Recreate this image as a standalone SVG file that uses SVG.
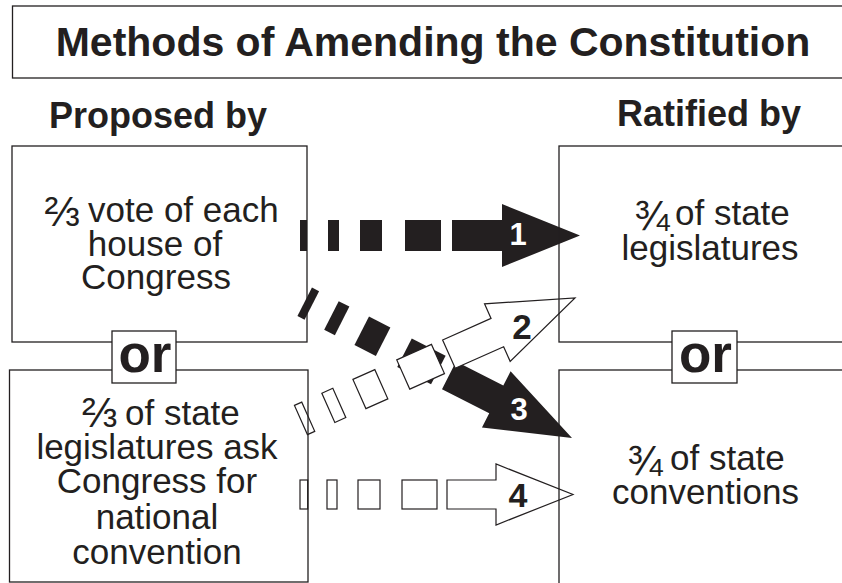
<svg xmlns="http://www.w3.org/2000/svg" width="842" height="583" viewBox="0 0 842 583">
<style>
.t{font-family:"Liberation Sans",Arial,Helvetica,sans-serif;fill:#231f20}
.b{font-weight:bold}
.bx{fill:none;stroke:#231f20;stroke-width:1.3}
.orb{fill:#fff;stroke:#231f20;stroke-width:1.3}
.blk{fill:#231f20}
.wht{fill:#fff;stroke:#231f20;stroke-width:1.2}
.m{text-anchor:middle}
.fr{font-size:42px}
</style>
<rect width="842" height="583" fill="#fff"/>
<g id="connectors">
  <g id="arrow1">
    <rect class="blk" x="300" y="220" width="7" height="31"/>
    <rect class="blk" x="328" y="220" width="11" height="31"/>
    <rect class="blk" x="360" y="220" width="22" height="31"/>
    <rect class="blk" x="405" y="220" width="36" height="31"/>
    <polygon class="blk" points="452,220 502,220 502,204 580,235.5 502,267 502,251 452,251"/>
    <text class="t b m" x="518" y="245" font-size="31" style="fill:#fff">1</text>
  </g>
  <g id="arrow3">
    <g transform="translate(572,438) rotate(27)">
      <rect class="blk" x="-300" y="-16" width="8" height="32"/>
      <rect class="blk" x="-270" y="-16" width="12" height="32"/>
      <rect class="blk" x="-236" y="-16" width="24" height="32"/>
      <rect class="blk" x="-188" y="-16" width="38" height="32"/>
      <polygon class="blk" points="-138,-15.5 -85,-15.5 -85,-31.5 0,0 -85,31.5 -85,15.5 -138,15.5"/>
    </g>
    <text class="t b m" x="519" y="420" font-size="31" style="fill:#fff">3</text>
  </g>
  <g id="arrow2">
    <g transform="translate(575,298) rotate(-24)">
      <rect class="wht" x="-300" y="-16" width="8" height="32"/>
      <rect class="wht" x="-270" y="-16" width="12" height="32"/>
      <rect class="wht" x="-236" y="-16" width="24" height="32"/>
      <rect class="wht" x="-188" y="-16" width="38" height="32"/>
      <polygon class="wht" points="-138,-15.5 -85,-15.5 -85,-31.5 0,0 -85,31.5 -85,15.5 -138,15.5"/>
    </g>
    <text class="t b m" x="522" y="339" font-size="35">2</text>
  </g>
  <g id="arrow4">
    <rect class="wht" x="300" y="480" width="7.7" height="29"/>
    <rect class="wht" x="327" y="480" width="10" height="29"/>
    <rect class="wht" x="358" y="480" width="22" height="29"/>
    <rect class="wht" x="402" y="480" width="35" height="29"/>
    <polygon class="wht" points="447,480 496,480 496,464 573,494.5 496,525 496,509 447,509"/>
    <text class="t b m" x="518" y="507" font-size="34">4</text>
  </g>
</g>
<g id="title">
  <rect class="bx" x="12.5" y="6" width="840" height="72"/>
  <text class="t b m" x="433" y="56" font-size="41">Methods of Amending the Constitution</text>
</g>
<g id="proposed-heading">
  <text class="t b" x="49" y="128" font-size="36">Proposed by</text>
</g>
<g id="ratified-heading">
  <text class="t b" x="617" y="126" font-size="36">Ratified by</text>
</g>
<g id="congress-vote">
  <rect class="bx" x="12" y="146" width="295" height="196"/>
  <text class="t" font-size="35"><tspan class="fr" x="44.5" y="226">⅔</tspan><tspan x="78.3" y="222"> vote of each</tspan></text>
  <text class="t m" x="155" y="255.5" font-size="35">house of</text>
  <text class="t m" x="156" y="289" font-size="35">Congress</text>
</g>
<g id="state-request">
  <rect class="bx" x="9.5" y="370" width="298.5" height="212"/>
  <text class="t" font-size="35"><tspan class="fr" x="82" y="427">⅔</tspan><tspan x="115.3" y="425"> of state</tspan></text>
  <text class="t m" x="157" y="458.5" font-size="35">legislatures ask</text>
  <text class="t m" x="157" y="493" font-size="35">Congress for</text>
  <text class="t m" x="157" y="528.5" font-size="35">national</text>
  <text class="t m" x="157" y="563.5" font-size="35">convention</text>
</g>
<g id="state-legislatures">
  <rect class="bx" x="559" y="146" width="320" height="196"/>
  <text class="t" font-size="35"><tspan class="fr" x="634.5" y="230">¾</tspan><tspan x="665.3" y="225"> of state</tspan></text>
  <text class="t m" x="710" y="260" font-size="35">legislatures</text>
</g>
<g id="state-conventions">
  <rect class="bx" x="559" y="370" width="320" height="240"/>
  <text class="t" font-size="35"><tspan class="fr" x="627.5" y="475">¾</tspan><tspan x="660.3" y="470"> of state</tspan></text>
  <text class="t m" x="705.5" y="504" font-size="35">conventions</text>
</g>
<g id="or-left">
  <rect class="orb" x="112" y="331" width="64" height="52"/>
  <text class="t b m" x="145" y="372" font-size="53">or</text>
</g>
<g id="or-right">
  <rect class="orb" x="672" y="331" width="65" height="52"/>
  <text class="t b m" x="705.5" y="372" font-size="53">or</text>
</g>
</svg>
